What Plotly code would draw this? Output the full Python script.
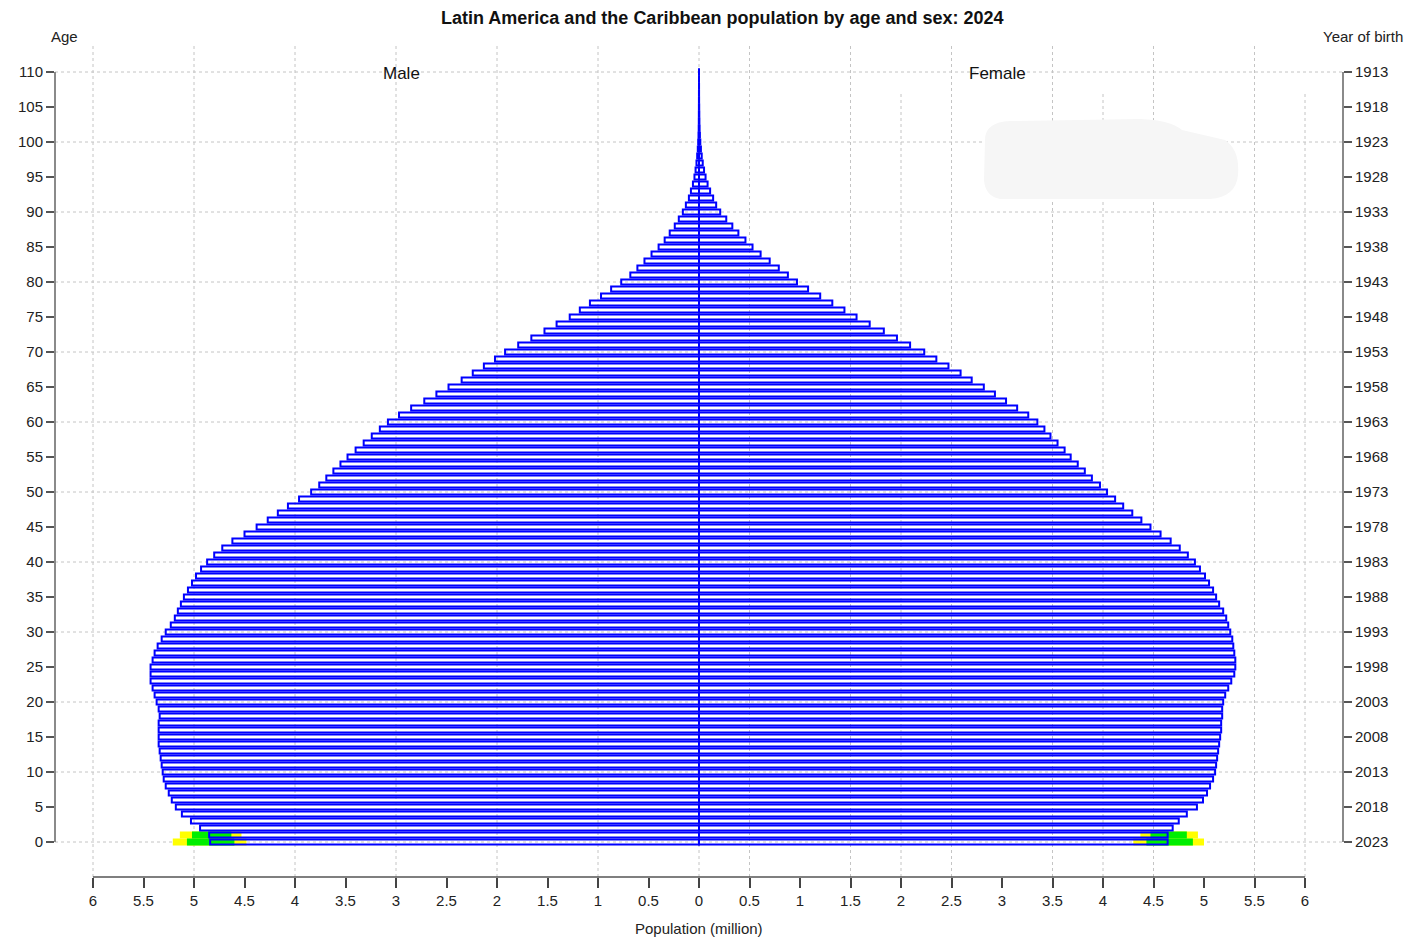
import plotly.graph_objects as go

# ---------------- data ----------------
ages = list(range(0, 111))

male = [4.84, 4.85, 4.94, 5.03, 5.12, 5.18, 5.22, 5.25, 5.28, 5.30,
        5.31, 5.32, 5.33, 5.34, 5.35, 5.35, 5.35, 5.35, 5.34, 5.35,
        5.37, 5.39, 5.41, 5.43, 5.43, 5.43, 5.41, 5.39, 5.36, 5.32,
        5.28, 5.23, 5.19, 5.16, 5.13, 5.10, 5.06, 5.02, 4.98, 4.93,
        4.87, 4.80, 4.72, 4.62, 4.50, 4.38, 4.27, 4.17, 4.07, 3.96,
        3.84, 3.76, 3.69, 3.62, 3.55, 3.48, 3.40, 3.32, 3.24, 3.16,
        3.08, 2.97, 2.85, 2.72, 2.60, 2.48, 2.35, 2.24, 2.13, 2.02,
        1.92, 1.79, 1.66, 1.53, 1.41, 1.28, 1.18, 1.08, 0.97, 0.87,
        0.77, 0.68, 0.61, 0.54, 0.47, 0.40, 0.34, 0.29, 0.24, 0.20,
        0.16, 0.13, 0.10, 0.08, 0.06, 0.045, 0.034, 0.025, 0.018, 0.012,
        0.008, 0.005, 0.003, 0.002, 0.0015, 0.001, 0.0007, 0.0005, 0.0003, 0.0002,
        0.0001]

female = [4.64, 4.64, 4.69, 4.75, 4.83, 4.93, 4.99, 5.03, 5.06, 5.09,
          5.11, 5.12, 5.13, 5.14, 5.15, 5.16, 5.17, 5.17, 5.18, 5.18,
          5.19, 5.21, 5.24, 5.27, 5.30, 5.31, 5.31, 5.30, 5.29, 5.28,
          5.26, 5.24, 5.22, 5.19, 5.15, 5.12, 5.09, 5.05, 5.01, 4.96,
          4.91, 4.84, 4.76, 4.67, 4.57, 4.47, 4.38, 4.29, 4.20, 4.12,
          4.04, 3.97, 3.89, 3.82, 3.75, 3.68, 3.62, 3.55, 3.48, 3.42,
          3.35, 3.26, 3.15, 3.04, 2.93, 2.82, 2.70, 2.59, 2.47, 2.35,
          2.23, 2.09, 1.96, 1.83, 1.69, 1.56, 1.44, 1.32, 1.20, 1.08,
          0.97, 0.88, 0.79, 0.70, 0.61, 0.53, 0.46, 0.39, 0.33, 0.27,
          0.21, 0.17, 0.14, 0.11, 0.085, 0.065, 0.05, 0.037, 0.027, 0.019,
          0.013, 0.009, 0.006, 0.004, 0.003, 0.002, 0.001, 0.0007, 0.0005, 0.0003,
          0.0002]

# uncertainty bands for the youngest ages (million)
band_ages = [0, 1]
male_outer_lo = [4.48, 4.53]
male_outer_hi = [5.21, 5.14]
male_inner_lo = [4.60, 4.63]
male_inner_hi = [5.07, 5.02]
female_outer_lo = [4.30, 4.37]
female_outer_hi = [5.00, 4.94]
female_inner_lo = [4.43, 4.47]
female_inner_hi = [4.89, 4.83]

x_ticks = [-6 + 0.5 * i for i in range(25)]
age_ticks = list(range(0, 111, 5))
ref_year = 2023
year_labels = [str(ref_year - a) for a in age_ticks]

title = "Latin America and the Caribbean population by age and sex: 2024"

# ---------------- geometry ----------------
W, H = 1410, 943
L, R, T, B = 55, 1343, 43, 877
X0PX, XSCALE = 699, 101.0   # pixel of 0 and px per million
Y0PX, YSCALE = 842, 7.0      # pixel of age 0 and px per year

x_range = [(L - X0PX) / XSCALE, (R - X0PX) / XSCALE]
y_range = [(Y0PX - B) / YSCALE, (Y0PX - T) / YSCALE]


def dx(px):
    return (px - X0PX) / XSCALE


def dy(py):
    return (Y0PX - py) / YSCALE


def py_paper(py):
    return (B - py) / (B - T)


def px_paper(px):
    return (px - L) / (R - L)


FONT = "Liberation Sans, Arial, Helvetica, sans-serif"

fig = go.Figure()

# uncertainty bands
fig.add_trace(go.Bar(y=band_ages, x=[h - l for l, h in zip(male_outer_lo, male_outer_hi)],
                     base=[-h for h in male_outer_hi], orientation="h", width=1.0,
                     marker=dict(color="#ffff00", line=dict(width=0)), hoverinfo="skip"))
fig.add_trace(go.Bar(y=band_ages, x=[h - l for l, h in zip(female_outer_lo, female_outer_hi)],
                     base=female_outer_lo, orientation="h", width=1.0,
                     marker=dict(color="#ffff00", line=dict(width=0)), hoverinfo="skip"))
fig.add_trace(go.Bar(y=band_ages, x=[h - l for l, h in zip(male_inner_lo, male_inner_hi)],
                     base=[-h for h in male_inner_hi], orientation="h", width=1.0,
                     marker=dict(color="#00ee00", line=dict(width=0)), hoverinfo="skip"))
fig.add_trace(go.Bar(y=band_ages, x=[h - l for l, h in zip(female_inner_lo, female_inner_hi)],
                     base=female_inner_lo, orientation="h", width=1.0,
                     marker=dict(color="#00ee00", line=dict(width=0)), hoverinfo="skip"))

# population bars
fig.add_trace(go.Bar(y=ages, x=[-v for v in male], base=0, orientation="h", width=0.72,
                     marker=dict(color="rgba(255,255,255,0)", line=dict(color="#0000ff", width=2)),
                     name="Male"))
fig.add_trace(go.Bar(y=ages, x=female, base=0, orientation="h", width=0.72,
                     marker=dict(color="rgba(255,255,255,0)", line=dict(color="#0000ff", width=2)),
                     name="Female"))

# invisible trace for right axis
fig.add_trace(go.Scatter(x=[0], y=[0], yaxis="y2", mode="markers",
                         marker=dict(opacity=0), hoverinfo="skip", showlegend=False))

shapes = []
grid = dict(color="#c4c4c4", width=1, dash="dot")
# horizontal grid every 10 years
for a in range(0, 111, 10):
    shapes.append(dict(type="line", xref="paper", yref="y", x0=0, x1=1, y0=a, y1=a,
                       line=grid, layer="below"))
# vertical grid: left side integers
for v in range(-6, 1):
    shapes.append(dict(type="line", xref="x", yref="paper", x0=v, x1=v, y0=0, y1=1,
                       line=grid, layer="below"))
# right side halves
for k in range(6):
    v = 0.5 + k
    shapes.append(dict(type="line", xref="x", yref="paper", x0=v, x1=v, y0=0, y1=1,
                       line=grid, layer="below"))
for v in [2, 4, 6]:
    shapes.append(dict(type="line", xref="x", yref="paper", x0=v, x1=v, y0=0, y1=py_paper(93),
                       line=grid, layer="below"))

# faint grey smudge top right
pts = [(985, 140), (985, 122), (1010, 121), (1140, 119), (1170, 120), (1182, 130),
       (1225, 140), (1240, 150), (1238, 175), (1236, 197), (1210, 199), (1000, 199),
       (985, 196), (984, 180)]
path = "M {},{} ".format(dx(pts[0][0]), dy(pts[0][1]))
path += "Q {},{} {},{} ".format(dx(pts[1][0]), dy(pts[1][1]), dx(pts[2][0]), dy(pts[2][1]))
path += "L {},{} ".format(dx(pts[3][0]), dy(pts[3][1]))
path += "Q {},{} {},{} ".format(dx(pts[4][0]), dy(pts[4][1]), dx(pts[5][0]), dy(pts[5][1]))
path += "L {},{} ".format(dx(pts[6][0]), dy(pts[6][1]))
path += "Q {},{} {},{} ".format(dx(pts[7][0]), dy(pts[7][1]), dx(pts[8][0]), dy(pts[8][1]))
path += "Q {},{} {},{} ".format(dx(pts[9][0]), dy(pts[9][1]), dx(pts[10][0]), dy(pts[10][1]))
path += "L {},{} ".format(dx(pts[11][0]), dy(pts[11][1]))
path += "Q {},{} {},{} Z".format(dx(pts[12][0]), dy(pts[12][1]), dx(pts[13][0]), dy(pts[13][1]))
shapes.append(dict(type="path", xref="x", yref="y", path=path,
                   fillcolor="#f6f6f6", line=dict(width=0), layer="below"))

# axis lines
shapes.append(dict(type="line", xref="paper", yref="y", x0=0, x1=0, y0=0, y1=110,
                   line=dict(color="#8a8a8a", width=2)))
shapes.append(dict(type="line", xref="paper", yref="y", x0=1, x1=1, y0=0, y1=110,
                   line=dict(color="#8a8a8a", width=2)))
shapes.append(dict(type="line", xref="x", yref="paper", x0=-6, x1=6, y0=0, y1=0,
                   line=dict(color="#555555", width=1.5)))


def fmt(v):
    s = ("%.1f" % abs(v))
    return s[:-2] if s.endswith(".0") else s


annotations = [
    dict(text="<b>" + title + "</b>", xref="paper", yref="paper",
         x=px_paper(722), y=py_paper(18), showarrow=False,
         font=dict(size=18, color="#111", family=FONT), xanchor="center", yanchor="middle"),
    dict(text="Age", xref="paper", yref="paper", x=px_paper(64), y=py_paper(36),
         showarrow=False, font=dict(size=15, color="#222", family=FONT),
         xanchor="center", yanchor="middle"),
    dict(text="Year of birth", xref="paper", yref="paper", x=px_paper(1363), y=py_paper(36),
         showarrow=False, font=dict(size=15, color="#222", family=FONT),
         xanchor="center", yanchor="middle"),
    dict(text="Male", xref="paper", yref="paper", x=px_paper(401), y=py_paper(73),
         showarrow=False, font=dict(size=17, color="#111", family=FONT),
         xanchor="center", yanchor="middle"),
    dict(text="Female", xref="paper", yref="paper", x=px_paper(998), y=py_paper(73),
         showarrow=False, font=dict(size=17, color="#111", family=FONT),
         xanchor="center", yanchor="middle"),
    dict(text="Population (million)", xref="paper", yref="paper", x=px_paper(699),
         y=py_paper(928), showarrow=False, font=dict(size=15, color="#222", family=FONT),
         xanchor="center", yanchor="middle"),
]

fig.update_layout(
    width=W, height=H,
    margin=dict(l=L, r=W - R, t=T, b=H - B, pad=0),
    paper_bgcolor="white", plot_bgcolor="white",
    barmode="overlay", showlegend=False,
    font=dict(family=FONT, size=15, color="#222"),
    xaxis=dict(range=x_range, tickvals=x_ticks, ticktext=[fmt(v) for v in x_ticks],
               ticks="outside", ticklen=10, tickwidth=1.5, tickcolor="#444",
               showgrid=False, zeroline=False, showline=False,
               tickfont=dict(size=15, color="#222", family=FONT), fixedrange=True),
    yaxis=dict(range=y_range, tickvals=age_ticks, ticktext=[str(a) for a in age_ticks],
               ticks="outside", ticklen=8, tickwidth=1.5, tickcolor="#555",
               showgrid=False, zeroline=False, showline=False,
               tickfont=dict(size=15, color="#222", family=FONT), fixedrange=True),
    yaxis2=dict(range=y_range, overlaying="y", side="right", anchor="x",
                tickvals=age_ticks, ticktext=year_labels,
                ticks="outside", ticklen=8, tickwidth=1.5, tickcolor="#555",
                showgrid=False, zeroline=False, showline=False,
                tickfont=dict(size=15, color="#222", family=FONT), fixedrange=True),
    shapes=shapes, annotations=annotations,
)

fig.write_html("out.html", config={"displayModeBar": False},
               post_script="document.body.style.margin='0';document.body.style.overflow='hidden';")
